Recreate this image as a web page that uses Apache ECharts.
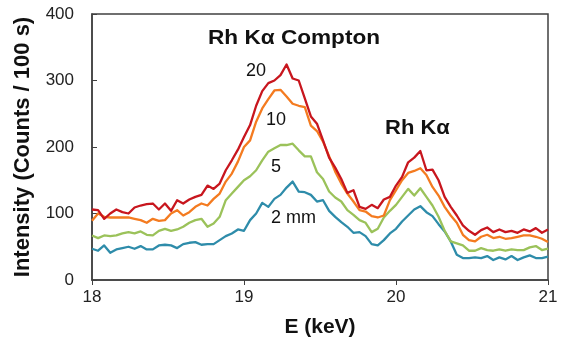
<!DOCTYPE html>
<html>
<head>
<meta charset="utf-8">
<script src="https://cdn.jsdelivr.net/npm/echarts@6/dist/echarts.min.js"></script>
<style>html,body{margin:0;padding:0;background:#fff}#c{width:561px;height:343px}</style>
</head>
<body>
<div id="c"></div>
<script>
// Energy grid (keV), step 0.04
const energy = [];
for (let i = 0; i <= 75; i++) energy.push(+(18 + i * 0.04).toFixed(2));

const xTicks = [18, 19, 20, 21];
const yTicks = [0, 100, 200, 300, 400];

const d20mm = [106,105,92,100,106,102,100,109,112,114,115,106,115,104,120,115,121,125,128,142,137,145,165,180,196,215,233,262,284,296,300,308,324,303,300,273,246,235,210,184,169,152,131,135,110,107,113,108,121,125,142,155,177,184,194,165,166,150,125,110,97,82,74,68,75,79,72,76,72,74,71,76,73,78,71,76];
const d10mm = [89,100,95,94,94,94,94,92,90,86,92,89,90,100,105,97,102,110,115,112,122,130,148,160,178,200,210,238,258,272,285,286,276,265,262,260,232,224,208,186,163,145,130,118,105,103,96,94,97,120,135,150,161,164,168,158,140,127,110,97,86,68,60,58,65,68,63,65,62,63,65,67,67,65,62,57];
const d5mm = [67,63,67,66,67,70,72,70,73,68,67,74,77,74,76,80,86,90,92,80,85,95,120,130,140,150,156,165,180,193,198,203,203,205,195,186,186,162,152,133,124,118,105,98,90,86,72,77,94,104,113,125,137,127,138,125,112,95,74,58,55,52,44,44,48,45,44,46,44,46,45,45,49,51,45,47];
const d2mm = [47,44,52,41,46,48,50,47,51,46,46,52,53,52,48,54,56,57,53,54,54,60,66,70,76,74,90,100,116,110,122,128,139,148,133,132,128,118,120,104,95,87,80,71,72,66,54,52,60,70,77,88,97,106,111,102,96,84,73,58,38,33,33,34,33,36,30,34,31,36,30,34,37,33,33,35];

const seriesNames = ['2 mm', '5', '10', '20'];
const seriesData = [d2mm, d5mm, d10mm, d20mm];
const seriesColors = ['#2E8CAA', '#9BC25A', '#F47B20', '#C8161E'];

const chart = echarts.init(document.getElementById('c'), null, {renderer: 'canvas'});
const font = 'Liberation Sans, Arial, sans-serif';

chart.setOption({
  animation: false,
  backgroundColor: '#ffffff',
  grid: {left: 92, right: 13, top: 14, bottom: 63, show: true, borderColor: '#404040', borderWidth: 1.5, backgroundColor: 'transparent'},
  xAxis: {
    type: 'value', min: 18, max: 21, interval: 1,
    name: 'E (keV)', nameLocation: 'middle', nameGap: 37,
    nameTextStyle: {fontFamily: font, fontSize: 21, fontWeight: 'bold', color: '#111'},
    axisLine: {show: true, lineStyle: {color: '#404040', width: 1.5}},
    axisTick: {show: true, inside: false, length: 5, lineStyle: {color: '#404040'}},
    axisLabel: {fontFamily: font, fontSize: 17, color: '#222', margin: 9,
      formatter: v => xTicks.includes(v) ? String(v) : ''},
    splitLine: {show: false}
  },
  yAxis: {
    type: 'value', min: 0, max: 400, interval: 100,
    name: 'Intensity (Counts / 100 s)', nameLocation: 'middle', nameGap: 58,
    nameTextStyle: {fontFamily: font, fontSize: 22, fontWeight: 'bold', color: '#111'},
    axisLine: {show: true, lineStyle: {color: '#404040', width: 1.5}},
    axisTick: {show: true, inside: true, length: 5, lineStyle: {color: '#404040'}},
    axisLabel: {fontFamily: font, fontSize: 17, color: '#222', margin: 18,
      formatter: v => yTicks.includes(v) ? String(v) : ''},
    splitLine: {show: false}
  },
  series: seriesData.map((d, k) => ({
    name: seriesNames[k], type: 'line', showSymbol: false, smooth: false,
    data: d.map((v, i) => [energy[i], v]),
    lineStyle: {color: seriesColors[k], width: 2.3, join: 'round'},
    itemStyle: {color: seriesColors[k]},
    z: 2 + k
  })),
  graphic: [
    {type: 'text', left: 208, top: 28, style: {text: 'Rh Kα Compton', font: 'bold 20px ' + font, fill: '#111'}, scaleX: 1.13},
    {type: 'text', left: 385, top: 118, style: {text: 'Rh Kα', font: 'bold 20px ' + font, fill: '#111'}, scaleX: 1.1},
    {type: 'text', left: 246, top: 62, style: {text: '20', font: '18px ' + font, fill: '#111'}},
    {type: 'text', left: 266, top: 111, style: {text: '10', font: '18px ' + font, fill: '#111'}},
    {type: 'text', left: 271, top: 158, style: {text: '5', font: '18px ' + font, fill: '#111'}},
    {type: 'text', left: 271, top: 209, style: {text: '2 mm', font: '18px ' + font, fill: '#111'}}
  ]
});
</script>
</body>
</html>
